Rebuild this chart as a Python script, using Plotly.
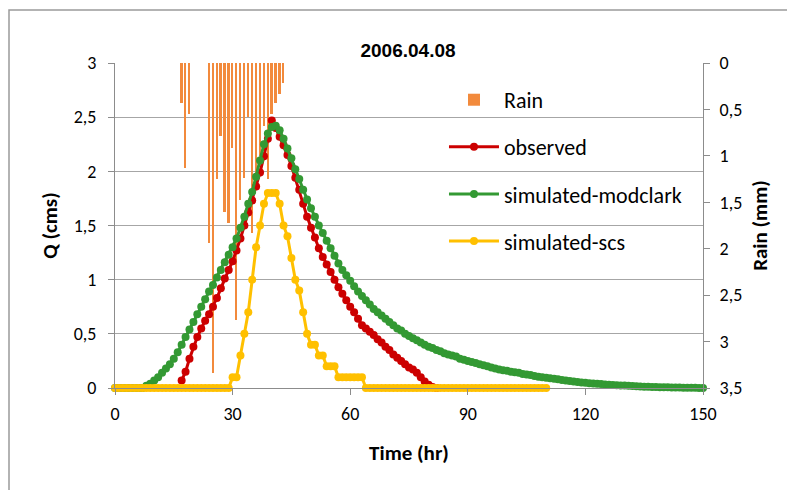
import plotly.graph_objects as go

# ---------------- data ----------------
rain_time = [17, 18, 19, 24, 25, 26, 27, 28, 29, 30, 31, 32, 33, 34, 35, 36, 37, 38, 39, 40, 41, 42, 43]
rain_mm = [0.43, 1.13, 0.55, 1.94, 3.34, 1.25, 0.79, 1.60, 1.72, 0.91, 2.77, 1.47, 1.24, 0.58,
           1.83, 1.28, 1.00, 0.68, 1.25, 0.55, 0.43, 0.33, 0.22]

obs_time = list(range(17, 83))
obs_q = [0.07, 0.15, 0.27, 0.38, 0.47, 0.55, 0.62, 0.68, 0.75, 0.83,
         0.92, 1.01, 1.09, 1.17, 1.27, 1.38, 1.50, 1.62, 1.73, 1.86,
         1.99, 2.14, 2.30, 2.47, 2.40, 2.32, 2.24, 2.15, 2.05, 1.94,
         1.83, 1.70, 1.58, 1.48, 1.39, 1.29, 1.21, 1.14, 1.07, 1.00,
         0.93, 0.87, 0.81, 0.75, 0.70, 0.64, 0.58, 0.55, 0.52, 0.49,
         0.45, 0.42, 0.38, 0.35, 0.31, 0.28, 0.25, 0.22, 0.19, 0.17,
         0.14, 0.10, 0.06, 0.03, 0.01, 0.00]

mod_time = list(range(0, 151))
mod_q = [0, 0, 0, 0, 0, 0, 0, 0, 0.02, 0.04,
         0.07, 0.10, 0.14, 0.18, 0.22, 0.27, 0.33, 0.40, 0.47, 0.54,
         0.61, 0.68, 0.75, 0.82, 0.89, 0.95, 1.02, 1.09, 1.16, 1.23,
         1.30, 1.38, 1.48, 1.58, 1.70, 1.81, 1.95, 2.10, 2.25, 2.35,
         2.41, 2.42, 2.38, 2.30, 2.21, 2.12, 2.02, 1.93, 1.83, 1.74,
         1.66, 1.58, 1.50, 1.43, 1.36, 1.29, 1.22, 1.15, 1.09, 1.04,
         0.99, 0.94, 0.89, 0.85, 0.81, 0.77, 0.73, 0.70, 0.67, 0.64,
         0.61, 0.58, 0.55, 0.53, 0.50, 0.48, 0.46, 0.44, 0.42, 0.40,
         0.38, 0.37, 0.35, 0.34, 0.32, 0.31, 0.30, 0.29, 0.27, 0.26,
         0.25, 0.24, 0.23, 0.22, 0.21, 0.20, 0.19, 0.18, 0.17, 0.165,
         0.16, 0.15, 0.145, 0.14, 0.13, 0.125, 0.12, 0.11, 0.105, 0.10,
         0.095, 0.09, 0.085, 0.08, 0.075, 0.07, 0.065, 0.06, 0.055, 0.05,
         0.048, 0.045, 0.042, 0.039, 0.036, 0.033, 0.030, 0.028, 0.026, 0.024,
         0.022, 0.020, 0.018, 0.016, 0.014, 0.012, 0.011, 0.010, 0.009, 0.008,
         0.007, 0.006, 0.005, 0.004, 0.004, 0.003, 0.003, 0.002, 0.002, 0.001,
         0.001]

scs_time = list(range(0, 111))
scs_q = [0] * 30 + [
    0.1, 0.1, 0.3, 0.5, 0.7, 1.0, 1.3, 1.5, 1.7, 1.8,
    1.8, 1.8, 1.7, 1.5, 1.4, 1.2, 1.0, 0.9, 0.7, 0.5,
    0.4, 0.4, 0.3, 0.3, 0.2, 0.2, 0.2, 0.1, 0.1, 0.1,
    0.1, 0.1, 0.1, 0.1] + [0] * 47

x_ticks = [0, 30, 60, 90, 120, 150]

# ---------------- figure ----------------
FONT = "Carlito, Calibri, Lato, sans-serif"
TFONT = "Liberation Sans Narrow, Arial Narrow, Liberation Sans, Arial, sans-serif"
GRAY = "#8C8C8C"

fig = go.Figure()
fig.add_trace(go.Bar(x=rain_time, y=rain_mm, name="Rain", yaxis="y",
                     marker=dict(color="#F28A3C", line=dict(width=0)),
                     width=0.45, legendgroup="a"))

def line_trace(x, y, name, color, grp):
    return go.Scatter(x=x, y=y, name=name, yaxis="y2", mode="lines+markers",
                      line=dict(color=color, width=3),
                      marker=dict(color=color, size=8, symbol="circle"),
                      cliponaxis=False, legendgroup=grp)

fig.add_trace(line_trace(obs_time, obs_q, "observed", "#CC0000", "b"))
fig.add_trace(line_trace(mod_time, mod_q, "simulated-modclark", "#339933", "c"))
fig.add_trace(line_trace(scs_time, scs_q, "simulated-scs", "#FFC000", "d"))

fig.update_layout(
    width=795, height=490,
    margin=dict(l=107, r=100, t=55, b=110),
    paper_bgcolor="white", plot_bgcolor="white",
    separators=",.",
    font=dict(family=FONT, size=18, color="black"),
    title=dict(text="<b>2006.04.08</b>", x=(400 / 795), xanchor="center",
               y=1 - 42 / 490, yanchor="middle", yref="container",
               font=dict(family=TFONT, size=19, color="black")),
    showlegend=True,
    legend=dict(x=0.5595, y=0.951, xanchor="left", yanchor="top",
                bgcolor="rgba(0,0,0,0)", font=dict(size=22, family=FONT),
                itemwidth=50, tracegroupgap=15.5, traceorder="grouped"),
    bargap=0,
    xaxis=dict(range=[0, 150], tickvals=x_ticks, ticks="outside", ticklen=6,
               tickcolor=GRAY, showline=True, linecolor=GRAY, linewidth=1,
               showgrid=False, zeroline=False, ticklabelstandoff=3,
               title=dict(text="<b>Time (hr)</b>", standoff=21,
                          font=dict(size=21))),
    yaxis=dict(range=[3.5, 0], dtick=0.5, side="right", ticks="outside",
               ticklen=6, tickcolor=GRAY, showline=True, linecolor=GRAY,
               showgrid=False, zeroline=False, ticklabelstandoff=6,
               title=dict(text="<b>Rain (mm)</b>", standoff=10,
                          font=dict(size=21))),
    yaxis2=dict(range=[0, 3], dtick=0.5, side="left", overlaying="y",
                ticks="outside", ticklen=6, tickcolor=GRAY, showline=True,
                linecolor=GRAY, showgrid=True, gridcolor="#A6A6A6",
                gridwidth=1, zeroline=False, ticklabelstandoff=8,
                title=dict(text="<b>Q (cms)</b>", standoff=10,
                           font=dict(size=21))),
)

# outer chart border (partially outside the image, as in the reference)
fig.add_shape(type="rect", xref="paper", yref="paper",
              x0=-106 / 588, x1=1.2, y0=-0.35, y1=(388 - 10) / 325,
              line=dict(color="#9A9A9A", width=1.5), fillcolor="rgba(0,0,0,0)",
              layer="below")

fig.write_html("out.html")
